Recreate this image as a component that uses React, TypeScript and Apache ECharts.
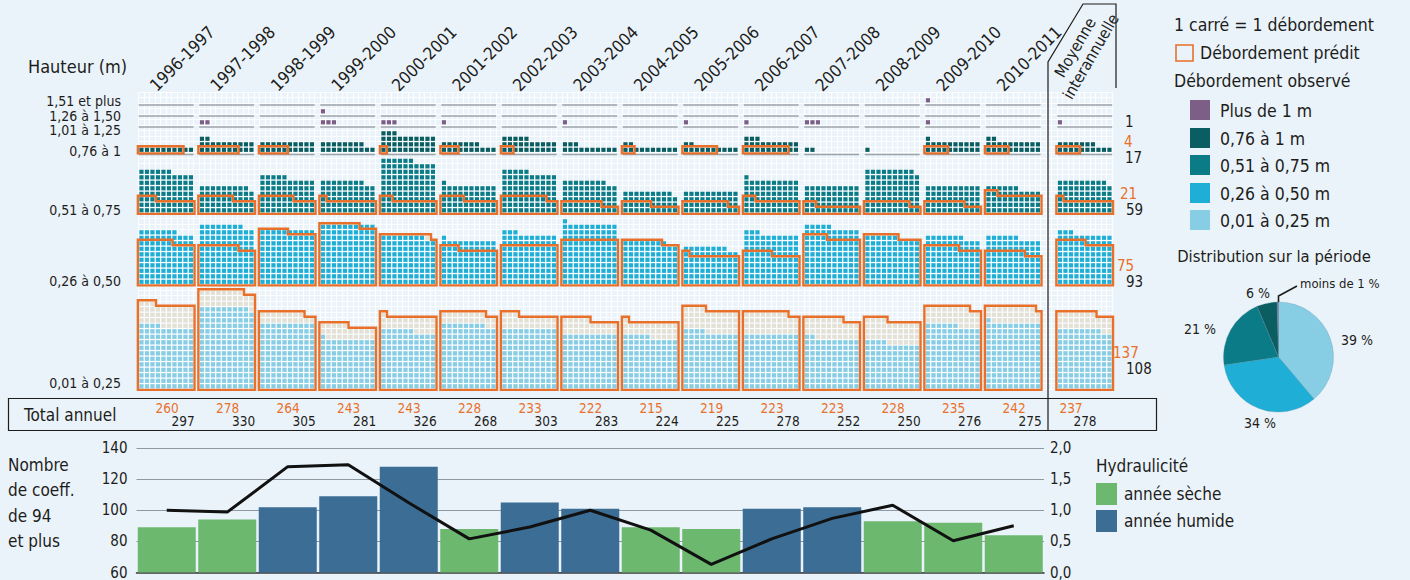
import React, { useEffect, useRef } from "react";
import * as echarts from "echarts";

// ---------- DATA ----------
const years = ["1996-1997", "1997-1998", "1998-1999", "1999-2000", "2000-2001", "2001-2002", "2002-2003", "2003-2004", "2004-2005", "2005-2006", "2006-2007", "2007-2008", "2008-2009", "2009-2010", "2010-2011"];
const heightLabels = ["0,01 à 0,25", "0,26 à 0,50", "0,51 à 0,75", "0,76 à 1", "1,01 à 1,25", "1,26 à 1,50", "1,51 et plus"];

// observed overflows per height class (one square = one overflow)
const obs_001_025 = [114, 149, 120, 91, 106, 118, 110, 100, 95, 104, 100, 92, 84, 116, 121];
const obs_026_050 = [97, 108, 100, 110, 88, 81, 93, 111, 78, 68, 93, 105, 86, 87, 86];
const obs_051_075 = [76, 49, 65, 58, 96, 51, 75, 58, 39, 40, 61, 50, 79, 50, 46];
const obs_076_100 = [10, 22, 20, 18, 33, 17, 25, 13, 12, 12, 23, 2, 1, 21, 22];
const obs_101_125 = [0, 2, 0, 3, 3, 1, 0, 1, 0, 1, 1, 3, 0, 1, 0];
const obs_126_150 = [0, 0, 0, 1, 0, 0, 0, 0, 0, 0, 0, 0, 0, 0, 0];
const obs_151_plus = [0, 0, 0, 0, 0, 0, 0, 0, 0, 0, 0, 0, 0, 1, 0];

// predicted overflows per height class
const pred_001_025 = [153, 178, 138, 115, 131, 138, 133, 125, 121, 144, 138, 127, 124, 148, 149];
const pred_026_050 = [76, 67, 95, 107, 89, 63, 70, 80, 77, 51, 55, 84, 86, 66, 57];
const pred_051_075 = [23, 26, 26, 21, 22, 24, 28, 17, 15, 18, 22, 12, 18, 17, 32];
const pred_076_100 = [8, 7, 5, 0, 1, 3, 2, 0, 2, 6, 8, 0, 0, 4, 4];

// inter-annual average
const avgObserved = [108, 93, 59, 17, 1, 0, 0];
const avgPredicted = [137, 75, 21, 4, 0, 0, 0];

// annual totals
const totalPredicted = [260, 278, 264, 243, 243, 228, 233, 222, 215, 219, 223, 223, 228, 235, 242];
const totalObserved = [297, 330, 305, 281, 326, 268, 303, 283, 224, 225, 278, 252, 250, 276, 275];
const avgTotalPredicted = 237;
const avgTotalObserved = 278;

// bottom chart
const coeff94 = [89, 94, 102, 109, 128, 88, 105, 101, 89, 88, 101, 102, 93, 92, 84];
const yearType = ["sèche", "sèche", "humide", "humide", "humide", "sèche", "humide", "humide", "sèche", "sèche", "humide", "humide", "sèche", "sèche", "sèche"];
const hydraulicity = [1.0, 0.97, 1.7, 1.73, 1.12, 0.54, 0.73, 1.0, 0.68, 0.13, 0.54, 0.87, 1.08, 0.51, 0.75];
const coeffTicks = [60, 80, 100, 120, 140];

// pie
const pieNames = ["0,01 à 0,25 m", "0,26 à 0,50 m", "0,51 à 0,75 m", "0,76 à 1 m", "Plus de 1 m"];
const pieShares = [39, 34, 21, 6, 0.4];
const pieLabels = ["39 %", "34 %", "21 %", "6 %", "moins de 1 %"];

const legendItems = ["Plus de 1 m", "0,76 à 1 m", "0,51 à 0,75 m", "0,26 à 0,50 m", "0,01 à 0,25 m"];

// ---------- STYLE ----------
const BG = "#EBF3FA";
const C_LIGHT = "#87CDE4";
const C_BLUE = "#1EAED6";
const C_TEAL = "#0B7C87";
const C_DARK = "#0A5D61";
const C_PURPLE = "#7C5E86";
const C_BEIGE = "#E4E0D3";
const ORANGE = "#E8702A";
const GREEN = "#6CB86E";
const WET = "#3B6D95";
const INK = "#1D1D1B";
const FONT = "'Liberation Sans Narrow', 'DejaVu Sans Condensed', 'Roboto', sans-serif";
const cellColors = [C_LIGHT, C_BLUE, C_TEAL, C_DARK, C_PURPLE, C_PURPLE, C_PURPLE, C_BEIGE];
const BASE = [0, 19, 32, 43, 48, 50, 52];
const AVG_X = 167;

// ---------- build waffle data ----------
const obsByYear = years.map((_, i) => [obs_001_025[i], obs_026_050[i], obs_051_075[i], obs_076_100[i], obs_101_125[i], obs_126_150[i], obs_151_plus[i]]);
const predByYear = years.map((_, i) => [pred_001_025[i], pred_026_050[i], pred_051_075[i], pred_076_100[i], 0, 0, 0]);

const cells: number[][] = [];
const outlines: number[][] = [];
const greyLines: number[][] = [];
function addColumn(x0: number, obs: number[], pred: number[]) {
  for (let b = 0; b < 7; b++) {
    const o = obs[b];
    const p = pred[b];
    const n = Math.max(o, p);
    for (let k = 0; k < n; k++) {
      cells.push([x0 + (k % 10), BASE[b] + Math.floor(k / 10), k < o ? b : 7]);
    }
    if (p > 0) outlines.push([x0, BASE[b], p]);
    if (b >= 3) greyLines.push([x0, BASE[b]]);
  }
}
years.forEach((_, i) => addColumn(i * 11, obsByYear[i], predByYear[i]));
addColumn(AVG_X, avgObserved, avgPredicted);

// ---------- helpers ----------
function txt(text: string, x: number, y: number, o: any = {}) {
  return {
    type: "text",
    x,
    y,
    rotation: o.rotation || 0,
    z: 50,
    style: {
      text,
      fill: o.fill || INK,
      fontSize: o.size || 15,
      fontFamily: FONT,
      fontWeight: o.weight || "normal",
      textAlign: o.align || "left",
      align: o.align || "left",
      textVerticalAlign: o.valign || "middle",
      verticalAlign: o.valign || "middle",
      lineHeight: o.lineHeight,
    },
  };
}

const CELL = 5.5;
const X0PX = 138.7;

export default function App() {
  const ref = useRef<HTMLDivElement>(null);
  useEffect(() => {
    const chart = echarts.init(ref.current!, undefined, { renderer: "svg", width: 1410, height: 580 });

    const graphics: any[] = [];
    graphics.push(txt("Hauteur (m)", 28, 66, { size: 18 }));
    const labelY = [383, 281, 210, 151, 130, 116, 101];
    heightLabels.forEach((l, i) => graphics.push(txt(l, 121, labelY[i], { align: "right", size: 14 })));
    years.forEach((y, i) => {
      graphics.push(txt(y, X0PX + i * 11 * CELL + 20, 94, { rotation: (45 * Math.PI) / 180, valign: "bottom", size: 17 }));
    });
    graphics.push(txt("Moyenne\ninterannuelle", 1083, 52, { rotation: (60 * Math.PI) / 180, align: "center", size: 16, lineHeight: 18 }));
    graphics.push({
      type: "polyline",
      z: 40,
      shape: { points: [[1048, 430], [1048, 62], [1083, 4], [1116, 4], [1116, 88]] },
      style: { stroke: INK, lineWidth: 1.2, fill: "none" },
    });
    // totals box
    graphics.push({ type: "rect", z: 40, shape: { x: 8.5, y: 398.5, width: 1148, height: 32 }, style: { fill: "none", stroke: INK, lineWidth: 1.2 } });
    graphics.push(txt("Total annuel", 24, 415, { size: 17 }));
    years.forEach((_, i) => {
      const cc = X0PX + i * 11 * CELL + 27.5;
      graphics.push(txt(String(totalPredicted[i]), cc + 1, 408, { align: "center", fill: ORANGE, size: 13.5 }));
      graphics.push(txt(String(totalObserved[i]), cc + 17, 421, { align: "center", size: 13.5 }));
    });
    graphics.push(txt(String(avgTotalPredicted), 1071, 408, { align: "center", fill: ORANGE, size: 13.5 }));
    graphics.push(txt(String(avgTotalObserved), 1085, 421, { align: "center", size: 13.5 }));
    // average side numbers
    graphics.push(txt(String(avgObserved[4]), 1125, 122, { size: 15 }));
    graphics.push(txt(String(avgPredicted[3]), 1124, 142, { size: 15, fill: ORANGE }));
    graphics.push(txt(String(avgObserved[3]), 1125, 158, { size: 15 }));
    graphics.push(txt(String(avgPredicted[2]), 1120, 194, { size: 15, fill: ORANGE }));
    graphics.push(txt(String(avgObserved[2]), 1126, 210, { size: 15 }));
    graphics.push(txt(String(avgPredicted[1]), 1117, 266, { size: 15, fill: ORANGE }));
    graphics.push(txt(String(avgObserved[1]), 1126, 282, { size: 15 }));
    graphics.push(txt(String(avgPredicted[0]), 1113, 353, { size: 15, fill: ORANGE }));
    graphics.push(txt(String(avgObserved[0]), 1126, 369, { size: 15 }));

    // legend top right
    graphics.push(txt("1 carré = 1 débordement", 1174, 25, { size: 17.5 }));
    graphics.push({ type: "rect", z: 40, shape: { x: 1176, y: 45, width: 17, height: 16 }, style: { fill: "none", stroke: ORANGE, lineWidth: 1.6 } });
    graphics.push(txt("Débordement prédit", 1200, 53, { size: 17.5 }));
    graphics.push(txt("Débordement observé", 1174, 81, { size: 17.5 }));
    const legColors = [C_PURPLE, C_DARK, C_TEAL, C_BLUE, C_LIGHT];
    const legY = [100, 128, 155, 183, 210];
    legendItems.forEach((l, i) => {
      graphics.push({ type: "rect", z: 40, shape: { x: 1190, y: legY[i], width: 20, height: 20 }, style: { fill: legColors[i] } });
      graphics.push(txt(l, 1220, legY[i] + 11, { size: 17.5 }));
    });
    graphics.push(txt("Distribution sur la période", 1274, 256, { align: "center", size: 16.5 }));
    const pieLabelPos = [[1357, 340], [1260, 423], [1200, 329], [1258, 293]];
    pieLabelPos.forEach((p, i) => graphics.push(txt(pieLabels[i], p[0], p[1], { align: "center", size: 14 })));
    graphics.push(txt(pieLabels[4], 1300, 283, { size: 13 }));
    graphics.push({ type: "polyline", z: 40, shape: { points: [[1278.5, 302], [1278.5, 296], [1297, 286]] }, style: { stroke: INK, lineWidth: 1.6, fill: "none" } });

    // bottom titles / legend
    graphics.push(txt("Nombre\nde coeff.\nde 94\net plus", 8, 503, { size: 17, lineHeight: 25.5 }));
    graphics.push(txt("Hydraulicité", 1096, 466, { size: 17 }));
    graphics.push({ type: "rect", z: 40, shape: { x: 1096, y: 483, width: 21, height: 22 }, style: { fill: GREEN } });
    graphics.push({ type: "rect", z: 40, shape: { x: 1096, y: 510, width: 21, height: 22 }, style: { fill: WET } });
    graphics.push(txt("année sèche", 1124, 494, { size: 17 }));
    graphics.push(txt("année humide", 1124, 521, { size: 17 }));

    const latticeLine = { show: true, lineStyle: { color: "#FFFFFF", width: 1.2, opacity: 0.8 } };

    const option: any = {
      animation: false,
      backgroundColor: BG,
      grid: [
        { left: X0PX, top: 389.05 - 54 * CELL, width: 177 * CELL, height: 54 * CELL },
        { left: 136.5, top: 448, width: 907.5, height: 126 },
      ],
      xAxis: [
        { gridIndex: 0, type: "value", min: 0, max: 177, interval: 1, axisLine: { show: false }, axisTick: { show: false }, axisLabel: { show: false }, splitLine: latticeLine },
        { gridIndex: 1, type: "category", data: years, axisLine: { show: true, lineStyle: { color: "#3A3A3A", width: 1.5 } }, axisTick: { show: false }, axisLabel: { show: false } },
      ],
      yAxis: [
        { gridIndex: 0, type: "value", min: 0, max: 54, interval: 1, axisLine: { show: false }, axisTick: { show: false }, axisLabel: { show: false }, splitLine: latticeLine },
        {
          gridIndex: 1, type: "value", min: coeffTicks[0], max: coeffTicks[coeffTicks.length - 1], interval: 20, position: "left",
          axisLine: { show: false }, axisTick: { show: false },
          axisLabel: { fontSize: 15, color: INK, fontFamily: FONT, margin: 9 },
          splitLine: { show: true, lineStyle: { color: "#8F99A3", width: 1 } },
        },
        {
          gridIndex: 1, type: "value", min: 0, max: 2, interval: 0.5, position: "right",
          axisLine: { show: false }, axisTick: { show: false },
          axisLabel: { fontSize: 15, color: INK, fontFamily: FONT, margin: 6, formatter: (v: number) => v.toFixed(1).replace(".", ",") },
          splitLine: { show: false },
        },
      ],
      series: [
        {
          type: "custom",
          name: "cells",
          xAxisIndex: 0,
          yAxisIndex: 0,
          data: cells,
          encode: { x: 0, y: 1 },
          z: 3,
          renderItem: (params: any, api: any) => {
            const x = api.value(0);
            const r = api.value(1);
            const c = api.value(2);
            const p = api.coord([x, r + 1]);
            const s = api.size([1, 1]);
            return {
              type: "rect",
              shape: { x: p[0] + s[0] * 0.12, y: p[1] + s[1] * 0.12, width: s[0] * 0.76, height: s[1] * 0.76 },
              style: { fill: cellColors[c] },
            };
          },
        },
        {
          type: "custom",
          name: "lines",
          xAxisIndex: 0,
          yAxisIndex: 0,
          data: greyLines,
          encode: { x: 0, y: 1 },
          z: 4,
          renderItem: (params: any, api: any) => {
            const x0 = api.value(0);
            const B = api.value(1);
            const a = api.coord([x0, B - 0.35]);
            const b = api.coord([x0 + 10, B - 0.35]);
            return { type: "line", shape: { x1: a[0], y1: a[1], x2: b[0], y2: b[1] }, style: { stroke: "#9CA3AA", lineWidth: 1.6 } };
          },
        },
        {
          type: "custom",
          name: "predicted",
          xAxisIndex: 0,
          yAxisIndex: 0,
          data: outlines,
          encode: { x: 0, y: 1 },
          z: 5,
          renderItem: (params: any, api: any) => {
            const x0 = api.value(0);
            const B = api.value(1);
            const n = api.value(2);
            const f = Math.floor(n / 10);
            const r = n % 10;
            const d = 0.15;
            let pts: number[][];
            if (f === 0) pts = [[x0 - d, B - d], [x0 + r + d, B - d], [x0 + r + d, B + 1 + d], [x0 - d, B + 1 + d]];
            else if (r === 0) pts = [[x0 - d, B - d], [x0 + 10 + d, B - d], [x0 + 10 + d, B + f + d], [x0 - d, B + f + d]];
            else pts = [[x0 - d, B - d], [x0 + 10 + d, B - d], [x0 + 10 + d, B + f + d], [x0 + r + d, B + f + d], [x0 + r + d, B + f + 1 + d], [x0 - d, B + f + 1 + d]];
            return { type: "polygon", shape: { points: pts.map((q) => api.coord(q)) }, style: { fill: "none", stroke: ORANGE, lineWidth: 2.4, lineJoin: "miter" } };
          },
        },
        {
          type: "bar",
          name: "Nombre de coeff. de 94 et plus",
          xAxisIndex: 1,
          yAxisIndex: 1,
          barWidth: 58,
          data: coeff94.map((v, i) => ({ value: v, itemStyle: { color: yearType[i] === "sèche" ? GREEN : WET } })),
        },
        {
          type: "line",
          name: "Hydraulicité",
          xAxisIndex: 1,
          yAxisIndex: 2,
          data: hydraulicity,
          symbol: "none",
          z: 6,
          lineStyle: { color: "#111111", width: 3 },
        },
        {
          type: "pie",
          name: "Distribution sur la période",
          center: [1278.5, 357],
          radius: 55,
          startAngle: 90,
          clockwise: true,
          label: { show: false },
          labelLine: { show: false },
          itemStyle: { borderColor: "#5A8FA0", borderWidth: 0.3 },
          data: pieNames.map((n, i) => ({ name: n, value: pieShares[i], itemStyle: { color: [C_LIGHT, C_BLUE, C_TEAL, C_DARK, C_PURPLE][i] } })),
        },
      ],
      graphic: graphics,
    };
    chart.setOption(option);
    return () => chart.dispose();
  }, []);
  return <div ref={ref} style={{ position: "absolute", left: 0, top: 0, width: 1410, height: 580, background: BG }} />;
}
